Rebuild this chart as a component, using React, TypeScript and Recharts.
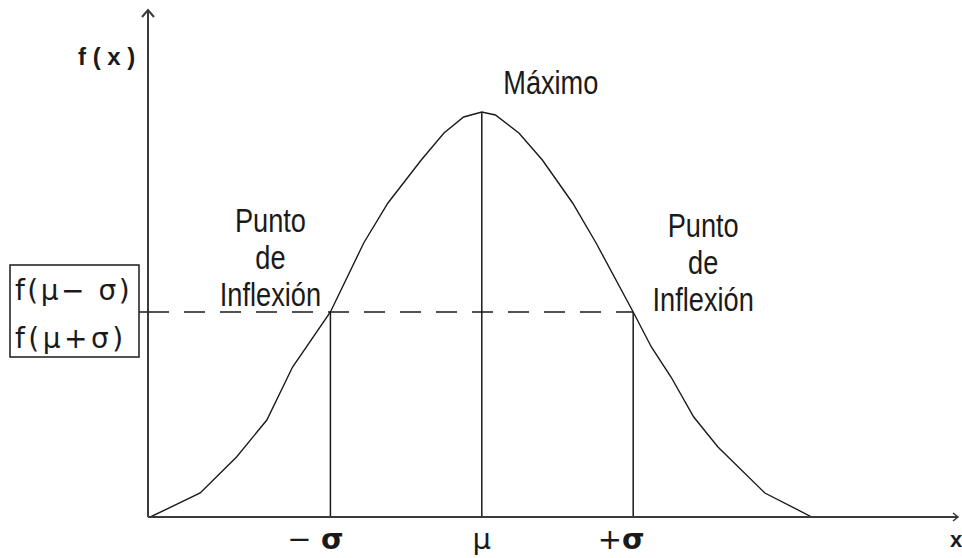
import {
  ComposedChart,
  Line,
  XAxis,
  YAxis,
  ReferenceLine,
  ReferenceDot,
} from "recharts";

// x in units of sigma around the mean, f(x) as drawn
const xPos = [
  -2.19, -1.86, -1.62, -1.42, -1.25, -1.0, -0.78, -0.62, -0.4, -0.25, -0.12, 0,
  0.09, 0.245, 0.4, 0.6, 0.755, 1.0, 1.12, 1.25, 1.4, 1.56, 1.87, 2.18,
];
const density = [
  0, 0.024, 0.06, 0.097, 0.15, 0.205, 0.274, 0.314, 0.357, 0.384, 0.4, 0.405,
  0.402, 0.384, 0.357, 0.314, 0.274, 0.205, 0.17, 0.14, 0.1, 0.07, 0.024, 0,
];

const tickValues = [-1, 0, 1];
const tickSigns = ["− ", "", "+"];
const tickSymbols = ["σ", "μ", "σ"];

const MU = 0;
const SIGMA = 1;
const PEAK = 0.405;
const F_INFLECTION = 0.205;

const X_MIN = -2.205;
const X_MAX = 3.139;
const Y_MAX = 0.507;

const data = xPos.map((x, i) => ({ x, f: density[i] }));

const INK = "#1a1a1a";
const AXIS = "#3a3a3a";
const SANS = "'Liberation Sans', Arial, sans-serif";
const SYMBOL = "'DejaVu Sans', sans-serif";

// condensed sans text (no narrow face installed, so squeeze horizontally)
function NarrowText({ x, y, children, size = 34 }: { x: number; y: number; children: string; size?: number }) {
  return (
    <g transform={`translate(${x},${y}) scale(0.8,1)`}>
      <text x={0} y={0} textAnchor="middle" fontFamily={SANS} fontSize={size} fill={INK}>
        {children}
      </text>
    </g>
  );
}

function SigmaTick(props: any) {
  const { x, y, payload } = props;
  const idx = tickValues.indexOf(payload.value);
  const sign = tickSigns[idx] ?? "";
  const sym = tickSymbols[idx] ?? "";
  const shift = payload.value === 0 ? 0 : payload.value < 0 ? -15 : -12;
  return (
    <text
      x={x + shift}
      y={y + 24}
      textAnchor="middle"
      fontFamily={SYMBOL}
      fontSize={29}
      fill={INK}
    >
      {sign}
      <tspan fontWeight={payload.value === 0 ? "normal" : "bold"}>{sym}</tspan>
    </text>
  );
}

function InflectionLabel({ cx, cy, dy }: { cx: number; cy: number; dy: number }) {
  const lines = ["Punto", "de", "Inflexión"];
  return (
    <g>
      {lines.map((t, i) => (
        <NarrowText key={t} x={cx} y={cy + dy + i * 37}>
          {t}
        </NarrowText>
      ))}
    </g>
  );
}

export default function App() {
  return (
    <div
      style={{
        position: "absolute",
        left: 0,
        top: 0,
        width: 962,
        height: 558,
        background: "#fff",
        overflow: "hidden",
      }}
    >
      <ComposedChart
        width={962}
        height={558}
        data={data}
        margin={{ top: 10, right: 5, bottom: 0, left: 0 }}
      >
        <XAxis
          dataKey="x"
          type="number"
          domain={[X_MIN, X_MAX]}
          ticks={tickValues}
          tick={<SigmaTick />}
          tickLine={false}
          axisLine={{ stroke: AXIS, strokeWidth: 2 }}
          height={41}
          allowDataOverflow
        />
        <YAxis
          type="number"
          domain={[0, Y_MAX]}
          width={148}
          tick={false}
          tickLine={false}
          axisLine={{ stroke: AXIS, strokeWidth: 2 }}
          allowDataOverflow
        />

        {/* dashed guide at f(mu ± sigma) */}
        <ReferenceLine
          segment={[
            { x: X_MIN, y: F_INFLECTION },
            { x: MU + SIGMA, y: F_INFLECTION },
          ]}
          stroke={INK}
          strokeWidth={1.5}
          strokeDasharray="21 15"
        />
        <ReferenceLine
          segment={[
            { x: MU - SIGMA, y: 0 },
            { x: MU - SIGMA, y: F_INFLECTION },
          ]}
          stroke={INK}
          strokeWidth={1.5}
        />
        <ReferenceLine
          segment={[
            { x: MU, y: 0 },
            { x: MU, y: PEAK },
          ]}
          stroke={INK}
          strokeWidth={1.5}
        />
        <ReferenceLine
          segment={[
            { x: MU + SIGMA, y: 0 },
            { x: MU + SIGMA, y: F_INFLECTION },
          ]}
          stroke={INK}
          strokeWidth={1.5}
        />

        <Line
          type="linear"
          dataKey="f"
          stroke={INK}
          strokeWidth={1.4}
          dot={false}
          activeDot={false}
          isAnimationActive={false}
        />

        {/* y axis arrow + f(x) label */}
        <ReferenceDot
          x={X_MIN}
          y={Y_MAX}
          r={0}
          shape={(p: any) => (
            <g>
              <path
                d={`M${p.cx - 6},${p.cy + 7} L${p.cx},${p.cy} L${p.cx + 6},${p.cy + 7}`}
                fill="none"
                stroke={AXIS}
                strokeWidth={2}
              />
              <text
                x={p.cx - 70}
                y={p.cy + 55}
                fontFamily={SANS}
                fontWeight="bold"
                fontSize={24}
                fill={INK}
              >
                f ( x )
              </text>
            </g>
          )}
        />

        {/* x axis arrow + label */}
        <ReferenceDot
          x={X_MAX}
          y={0}
          r={0}
          shape={(p: any) => (
            <g>
              <path
                d={`M${p.cx - 4},${p.cy - 4} L${p.cx + 1},${p.cy} L${p.cx - 4},${p.cy + 4}`}
                fill="none"
                stroke={AXIS}
                strokeWidth={1.5}
              />
              <text
                x={p.cx - 7}
                y={p.cy + 30}
                fontFamily={SANS}
                fontWeight="bold"
                fontSize={22}
                fill={INK}
              >
                x
              </text>
            </g>
          )}
        />

        {/* boxed value at the inflection height */}
        <ReferenceDot
          x={X_MIN}
          y={F_INFLECTION}
          r={0}
          shape={(p: any) => (
            <g>
              <rect
                x={p.cx - 138}
                y={p.cy - 47}
                width={129}
                height={92}
                fill="#fff"
                stroke={INK}
                strokeWidth={1.5}
              />
              <line
                x1={p.cx - 9}
                y1={p.cy}
                x2={p.cx}
                y2={p.cy}
                stroke={INK}
                strokeWidth={1.5}
              />
              <text
                x={p.cx - 133}
                y={p.cy - 12}
                fontFamily={SYMBOL}
                fontSize={28}
                letterSpacing={2.5}
                fill={INK}
              >
                f(μ− σ)
              </text>
              <text
                x={p.cx - 133}
                y={p.cy + 36}
                fontFamily={SYMBOL}
                fontSize={28}
                letterSpacing={3.5}
                fill={INK}
              >
                f(μ+σ)
              </text>
            </g>
          )}
        />

        <ReferenceDot
          x={MU}
          y={PEAK}
          r={0}
          shape={(p: any) => (
            <NarrowText x={p.cx + 69} y={p.cy - 18}>
              Máximo
            </NarrowText>
          )}
        />
        <ReferenceDot
          x={MU - SIGMA}
          y={F_INFLECTION}
          r={0}
          shape={(p: any) => <InflectionLabel cx={p.cx - 60} cy={p.cy} dy={-80} />}
        />
        <ReferenceDot
          x={MU + SIGMA}
          y={F_INFLECTION}
          r={0}
          shape={(p: any) => <InflectionLabel cx={p.cx + 70} cy={p.cy} dy={-75} />}
        />
      </ComposedChart>
    </div>
  );
}
